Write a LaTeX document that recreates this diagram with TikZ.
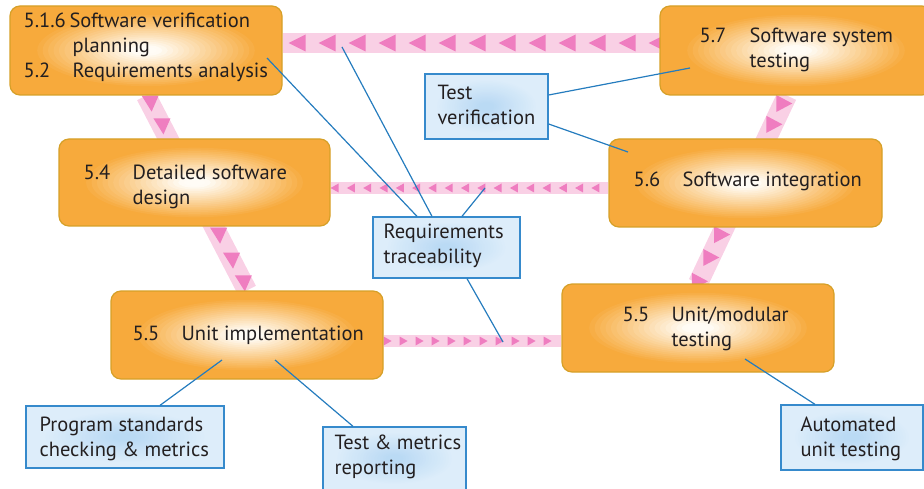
\documentclass[tikz,border=0pt]{standalone}
\usepackage{fontspec}
\setmainfont{PT Sans}
\usetikzlibrary{calc,backgrounds}

\definecolor{ofill}{RGB}{247,170,60}
\definecolor{ocore}{RGB}{255,252,246}
\definecolor{oedge}{RGB}{214,160,40}
\definecolor{bfill}{RGB}{221,237,250}
\definecolor{bcore}{RGB}{186,218,244}
\definecolor{bedge}{RGB}{54,138,204}
\definecolor{linkc}{RGB}{37,124,190}
\definecolor{bandc}{RGB}{249,208,229}
\definecolor{tric}{RGB}{239,125,192}
\definecolor{ink}{RGB}{35,31,32}

\newcommand{\secno}[1]{\makebox[49pt][l]{#1}}

\tikzset{
  glow/.style={path picture={
    \foreach \k in {1,...,20}{
      \pgfmathsetmacro\mix{min(100,5.5*\k)}
      \fill[#1core!\mix!#1fill] let \p1=($(path picture bounding box.north east)-(path picture bounding box.south west)$) in
        (path picture bounding box.center) ellipse ({abs(\x1)*0.42*(1-\k/21)} and {abs(\y1)*0.42*(1-\k/21)});
    }}},
  obox/.style={draw=oedge, line width=1.2pt, rounded corners=10pt, fill=ofill, glow=o},
  bbox/.style={draw=bedge, line width=1.3pt, fill=bfill, glow=b},
  txt/.style={anchor=west, inner sep=0pt, align=left, text=ink, font=\fontsize{20.5}{25}\selectfont},
  link/.style={draw=linkc, line width=1.2pt},
  band/.style={draw=bandc, line width=20pt},
  thinband/.style={draw=bandc, line width=12pt},
  ltri/.pic={\fill[tric] (-9,0) -- (8,-8.5) -- (8,8.5) -- cycle;},
  dtri/.pic={\fill[tric] (-8,-7) -- (9,-7) -- (2,9) -- cycle;},
  rtri/.pic={\fill[tric] (-7,-8.5) -- (-7,8.5) -- (9,0) -- cycle;},
  mtri/.pic={\fill[tric] (-4,0) -- (4,-4.5) -- (4,4.5) -- cycle;},
  btri/.pic={\fill[tric] (4,0) -- (-4,-4.5) -- (-4,4.5) -- cycle;}
}

\begin{document}
\begin{tikzpicture}[x=1pt,y=-1pt]
\useasboundingbox (0,0) rectangle (924,489);

% process boxes
\node[obox, minimum width=272pt, minimum height=89pt] (A) at (146,50.5) {};
\node[obox, minimum width=272pt, minimum height=89pt] (B) at (796,50.5) {};
\node[obox, minimum width=271pt, minimum height=87pt] (C) at (194.5,182.5) {};
\node[obox, minimum width=273pt, minimum height=88pt] (D) at (745.5,183) {};
\node[obox, minimum width=272pt, minimum height=88pt] (E) at (247,335) {};
\node[obox, minimum width=272pt, minimum height=88pt] (F) at (698,328) {};

% pink bands behind the boxes
\begin{scope}[on background layer]
  \coordinate (bs) at ($(B.south)+(-9,0)$);
  \draw[band] ($(A.east)+(0,-7.5)$) -- ($(B.west)+(0,-7.5)$);
  \foreach \i in {0,...,12}
    \pic at ($(A.east)+(15+30*\i,-7.5)$) {ltri};
  \draw[band] (A.south) -- (E.north);
  \foreach \t in {0.036,0.153,0.714,0.842,0.959}
    \pic at ($(A.south)!\t!(E.north)$) {dtri};
  \draw[band] (bs) -- (F.north);
  \foreach \t in {0.042,0.153,0.74,0.862,0.989}
    \pic at ($(bs)!\t!(F.north)$) {rtri};
  \draw[thinband] ($(C.east)+(0,5.5)$) -- ($(D.west)+(0,5)$);
  \foreach \i in {0,...,16}
    \pic at ($(C.east)+(4+16.3*\i,5.5)$) {mtri};
  \draw[thinband] ($(E.east)+(0,6)$) -- ($(F.west)+(0,13)$);
  \foreach \i in {0,...,10}
    \pic at ($(E.east)+(4+16*\i,6)$) {btri};
\end{scope}

% tool boxes
\node[bbox, minimum width=123pt, minimum height=65pt] (G) at (486.5,106.5) {};
\node[bbox, minimum width=147pt, minimum height=61pt] (H) at (446.5,247.5) {};
\node[bbox, minimum width=198pt, minimum height=62pt] (I) at (125,437) {};
\node[bbox, minimum width=143pt, minimum height=63pt] (J) at (394.5,458.5) {};
\node[bbox, minimum width=142pt, minimum height=65pt] (K) at (852,437.5) {};

% links
\coordinate (a1) at (267,58);
\coordinate (t1) at (342,47);
\coordinate (m1) at (485,188);
\coordinate (u1) at (503,342);
\coordinate (s1) at (690,68);
\coordinate (s2) at (628,152);
\coordinate (e1) at (222,360);
\coordinate (e2) at (275,360);
\coordinate (f1) at (745,359);
\draw[link] (a1) -- ($(H.north)+(-29.5,0)$);
\draw[link] (t1) -- ($(H.north)+(-14.5,0)$);
\draw[link] (m1) -- ($(H.north)+(15.5,0)$);
\draw[link] ($(H.south)+(20.5,0)$) -- (u1);
\draw[link] ($(G.east)+(0,-11.5)$) -- (s1);
\draw[link] ($(G.east)+(0,17.5)$) -- (s2);
\draw[link] (e1) -- ($(I.north)+(35,0)$);
\draw[link] (e2) -- ($(J.north)+(-41.5,0)$);
\draw[link] (f1) -- ($(K.north)+(-37,0)$);

% texts
\node[txt] (A-t) at ($(A.west)+(14,-3)$) {\makebox[46pt][l]{5.1.6}Software verification\\\hspace*{49pt}planning\\\secno{5.2}Requirements analysis};
\node[txt] (B-t) at ($(B.west)+(40,-1)$) {\makebox[50pt][l]{5.7}Software system\\\hspace*{50pt}testing};
\node[txt] (C-t) at ($(C.west)+(25,4.5)$) {\secno{5.4}Detailed software\\\hspace*{49pt}design};
\node[txt] (D-t) at ($(D.west)+(25,-2)$) {\secno{5.6}Software integration};
\node[txt] (E-t) at ($(E.west)+(22,0)$) {\secno{5.5}Unit implementation};
\node[txt] (F-t) at ($(F.west)+(61,0.5)$) {\secno{5.5}Unit/modular\\\hspace*{49pt}testing};
\node[txt] (G-t) at ($(G.west)+(13,-2)$) {Test\\verification};
\node[txt] (H-t) at ($(H.west)+(11,-2)$) {Requirements\\traceability};
\node[txt] (I-t) at ($(I.west)+(14,2)$) {Program standards\\checking \& metrics};
\node[txt] (J-t) at ($(J.west)+(12,-2)$) {Test \& metrics\\reporting};
\node[txt] (K-t) at ($(K.west)+(20,1.5)$) {Automated\\unit testing};
\end{tikzpicture}
\end{document}
